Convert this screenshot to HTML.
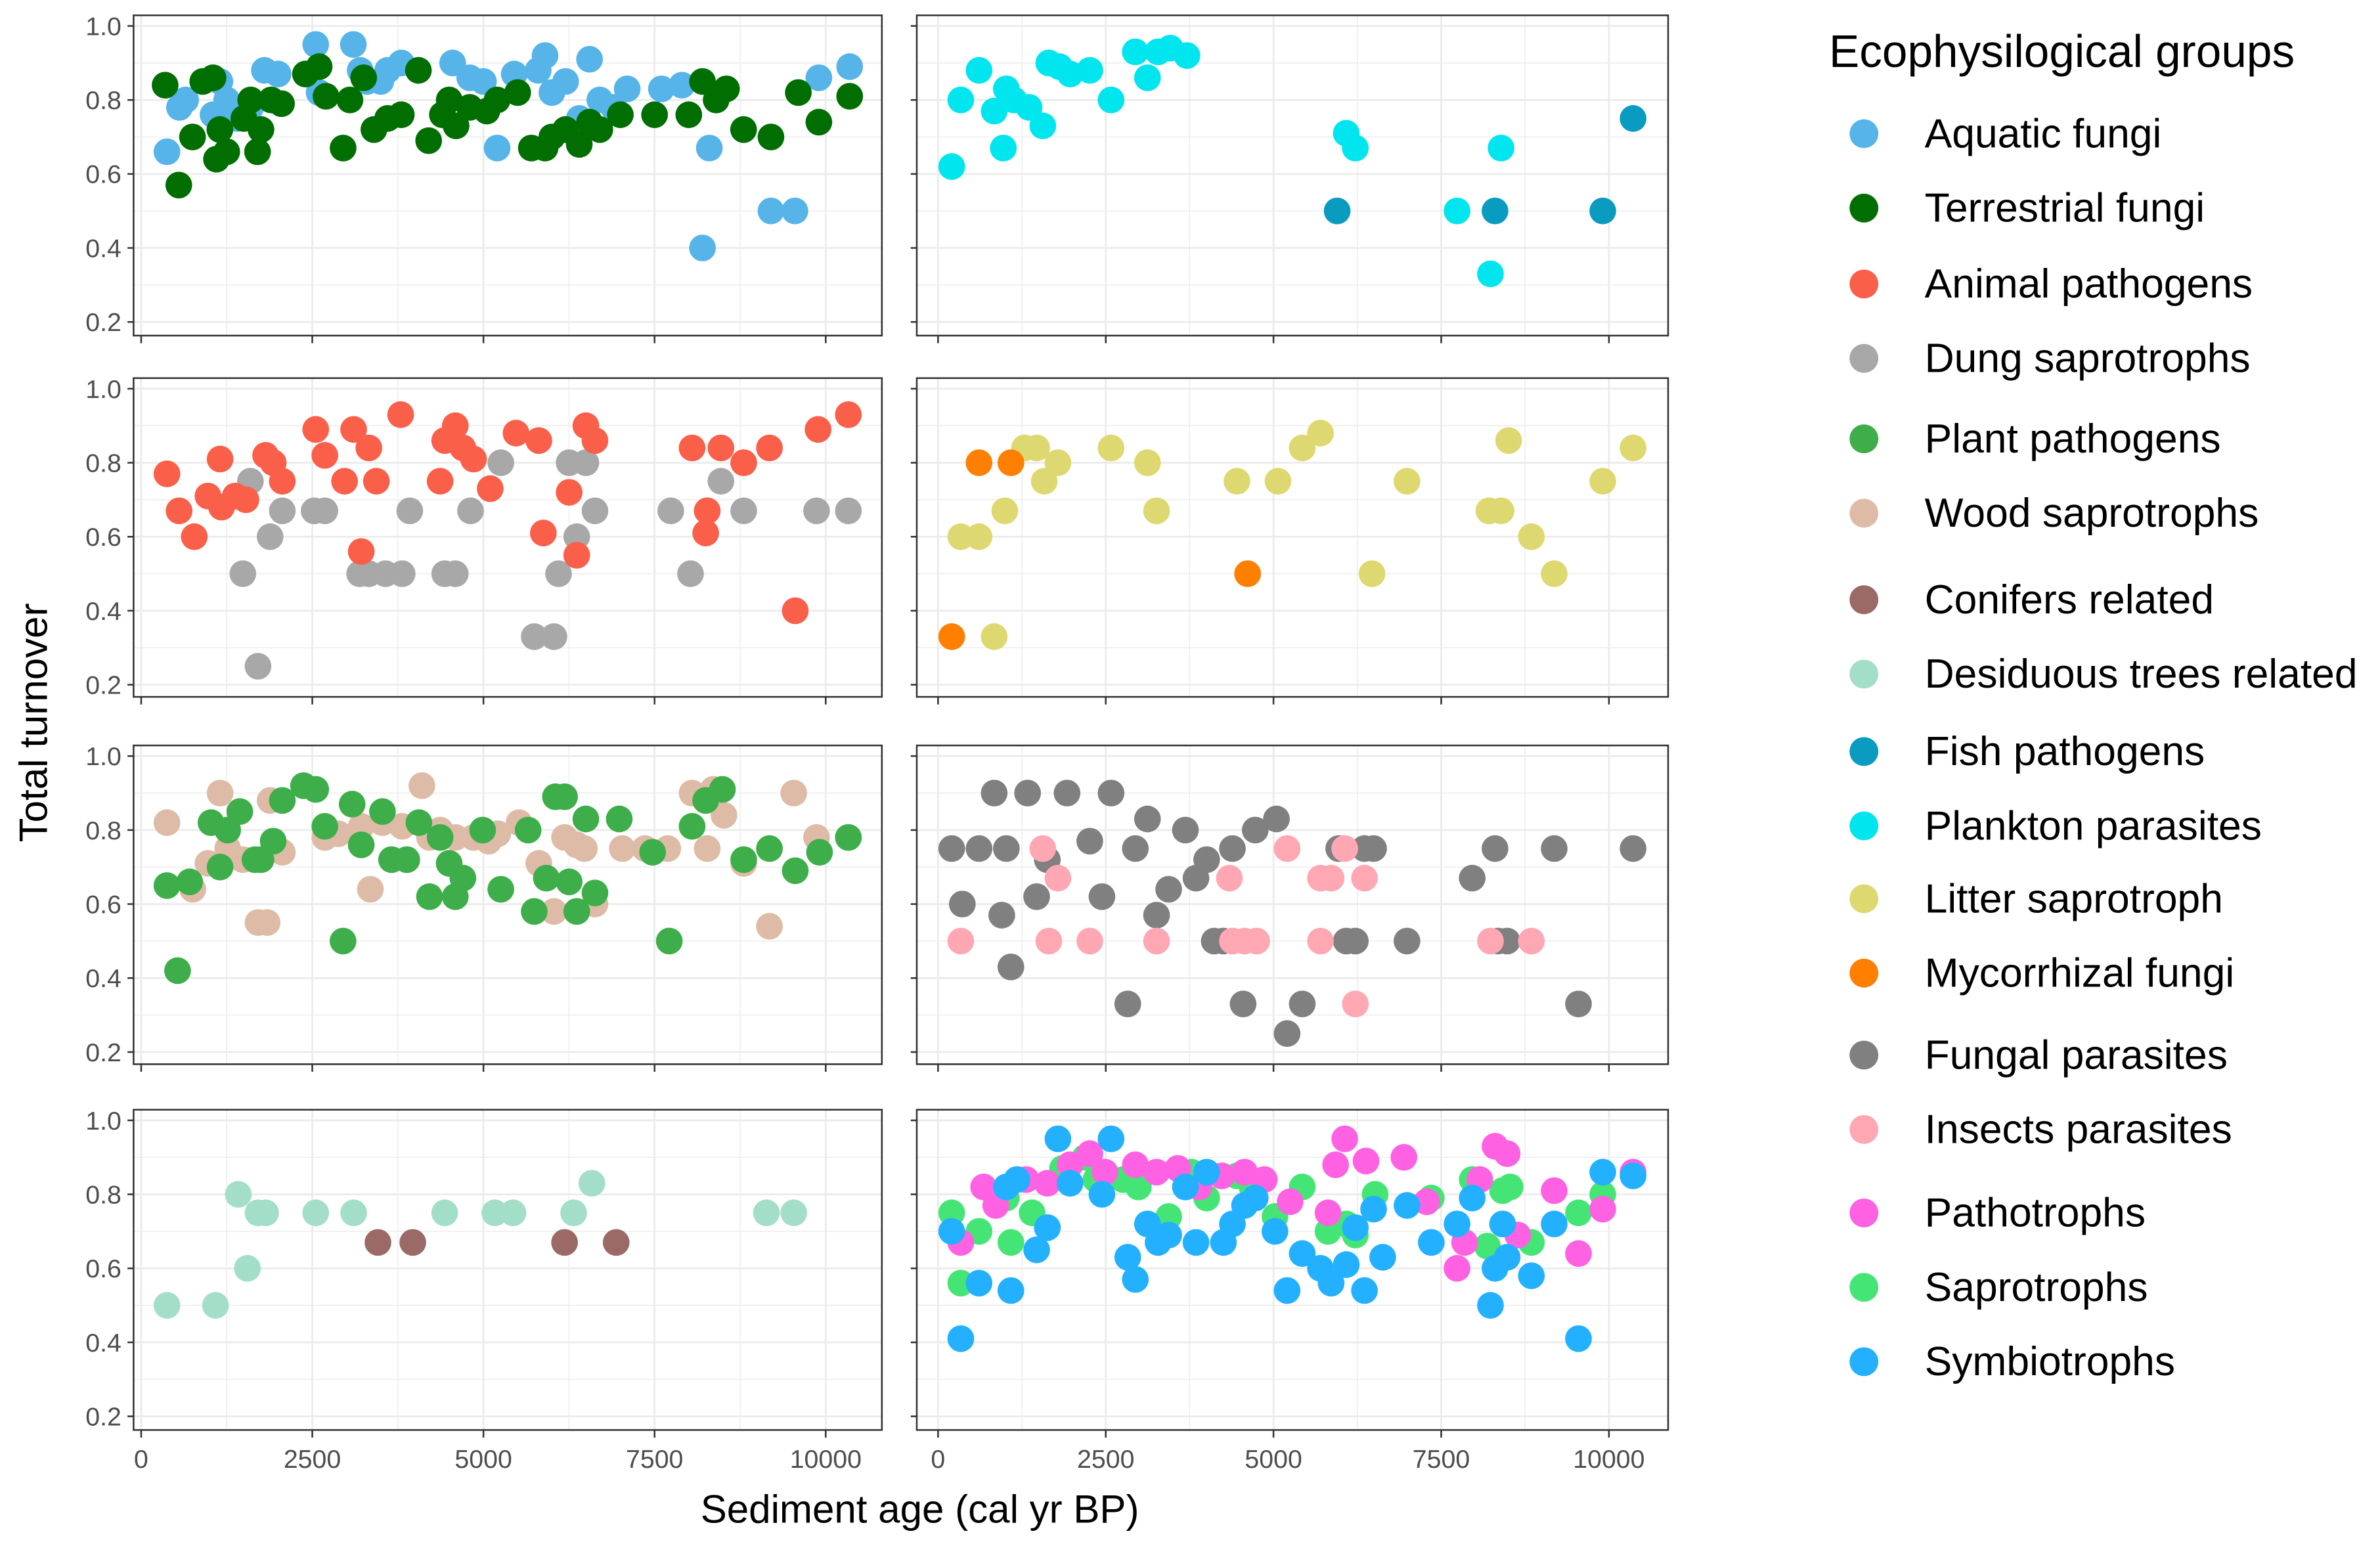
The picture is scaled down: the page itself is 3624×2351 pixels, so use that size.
<!DOCTYPE html>
<html><head><meta charset="utf-8"><style>
html,body{margin:0;padding:0;background:#fff;}
svg{display:block;font-family:"Liberation Sans",Arial,sans-serif;}
</style></head><body>
<svg id="chart" width="3624" height="2351" viewBox="0 0 1568 1017" xmlns="http://www.w3.org/2000/svg">
<rect width="1568" height="1017" fill="#fff"/>
<g id="panels"></g>
<text x="0" y="0" transform="translate(31,476) rotate(-90)" text-anchor="middle" font-size="26" fill="#000">Total turnover</text>
<text x="606" y="1003" text-anchor="middle" font-size="26" fill="#000">Sediment age (cal yr BP)</text>
<g id="legend"></g>
</svg>
<script>
const ticksY = [0.2,0.4,0.6,0.8,1.0];
const ticksX = [0,2500,5000,7500,10000];
const groupNames = ["Aquatic fungi","Terrestrial fungi","Animal pathogens","Dung saprotrophs","Plant pathogens","Wood saprotrophs","Conifers related","Desiduous trees related","Fish pathogens","Plankton parasites","Litter saprotroph","Mycorrhizal fungi","Fungal parasites","Insects parasites","Pathotrophs","Saprotrophs","Symbiotrophs"];
const groupColors = ["#56B4E9","#006E00","#FA5F4A","#A8A8A8","#3DAE49","#DDBBA6","#9B6A66","#A3DEC8","#0A9BC0","#00E5EE","#DDD870","#FF7F00","#808080","#FFA8B4","#FF61E3","#45E575","#22B0FF"];

const aquatic = [[377,0.66],[560,0.78],[650,0.80],[1050,0.76],[1150,0.85],[1250,0.80],[1300,0.78],[1400,0.75],[1600,0.78],[1800,0.88],[2000,0.87],[2550,0.95],[2600,0.82],[3100,0.95],[3200,0.88],[3300,0.85],[3500,0.85],[3600,0.88],[3800,0.90],[4550,0.90],[4800,0.86],[5000,0.85],[5200,0.67],[5450,0.87],[5800,0.88],[5900,0.92],[6000,0.82],[6200,0.85],[6400,0.75],[6550,0.91],[6700,0.80],[6900,0.78],[7100,0.83],[7600,0.83],[7900,0.84],[8200,0.40],[8300,0.67],[9200,0.50],[9550,0.50],[9900,0.86],[10350,0.89]];
const terrestrial = [[350,0.84],[550,0.57],[750,0.70],[900,0.85],[1050,0.86],[1100,0.64],[1150,0.72],[1250,0.66],[1500,0.75],[1600,0.80],[1700,0.66],[1750,0.72],[1900,0.80],[2050,0.79],[2400,0.87],[2600,0.89],[2700,0.81],[2950,0.67],[3050,0.80],[3250,0.86],[3400,0.72],[3600,0.75],[3800,0.76],[4050,0.88],[4200,0.69],[4400,0.76],[4500,0.80],[4600,0.73],[4800,0.78],[5050,0.77],[5200,0.80],[5500,0.82],[5700,0.67],[5900,0.67],[6000,0.70],[6200,0.72],[6400,0.68],[6550,0.74],[6700,0.72],[7000,0.76],[7500,0.76],[8000,0.76],[8200,0.85],[8400,0.80],[8550,0.83],[8800,0.72],[9200,0.70],[9600,0.82],[9900,0.74],[10350,0.81]];
const plankton = [[204,0.62],[339,0.80],[611,0.88],[837,0.77],[973,0.67],[1018,0.83],[1131,0.80],[1357,0.78],[1561,0.73],[1651,0.90],[1810,0.89],[1968,0.87],[2262,0.88],[2579,0.80],[2941,0.93],[3122,0.86],[3280,0.93],[3461,0.94],[3710,0.92],[6085,0.71],[6220,0.67],[7736,0.50],[8234,0.33],[8392,0.67]];
const fishPath = [[5949,0.50],[8302,0.50],[9908,0.50],[10360,0.75]];
const animal = [[377,0.77],[554,0.67],[776,0.60],[976,0.71],[1153,0.81],[1175,0.68],[1375,0.71],[1530,0.70],[1818,0.82],[1929,0.80],[2062,0.75],[2550,0.89],[2683,0.82],[2971,0.75],[3104,0.89],[3326,0.84],[3215,0.56],[3436,0.75],[3791,0.93],[4367,0.75],[4434,0.86],[4589,0.90],[4700,0.84],[4855,0.81],[5099,0.73],[5476,0.88],[5809,0.86],[5875,0.61],[6252,0.72],[6363,0.55],[6496,0.90],[6629,0.86],[8048,0.84],[8247,0.61],[8269,0.67],[8469,0.84],[8802,0.80],[9178,0.84],[9555,0.40],[9888,0.89],[10331,0.93]];
const dung = [[1485,0.50],[1596,0.75],[1707,0.25],[1884,0.60],[2062,0.67],[2527,0.67],[2683,0.67],[3192,0.50],[3326,0.50],[3570,0.50],[3813,0.50],[3924,0.67],[4434,0.50],[4589,0.50],[4811,0.67],[5254,0.80],[5742,0.33],[6030,0.33],[6097,0.50],[6252,0.80],[6363,0.60],[6496,0.80],[6629,0.67],[7737,0.67],[8025,0.50],[8269,0.67],[8469,0.75],[8802,0.67],[9866,0.67],[10331,0.67]];
const litter = [[339,0.60],[611,0.60],[837,0.33],[995,0.67],[1289,0.84],[1470,0.84],[1583,0.75],[1787,0.80],[2579,0.84],[3122,0.80],[3257,0.67],[4456,0.75],[5067,0.75],[5429,0.84],[5700,0.88],[6469,0.50],[6990,0.75],[8211,0.67],[8392,0.67],[8505,0.86],[8844,0.60],[9184,0.50],[9908,0.75],[10360,0.84]];
const mycorrhizal = [[204,0.33],[611,0.80],[1086,0.80],[4614,0.50]];
const plantPath = [[377,0.65],[532,0.42],[709,0.66],[1020,0.82],[1153,0.70],[1264,0.80],[1441,0.85],[1663,0.72],[1751,0.72],[1929,0.77],[2062,0.88],[2372,0.92],[2550,0.91],[2683,0.81],[2949,0.50],[3082,0.87],[3215,0.76],[3525,0.85],[3658,0.72],[3880,0.72],[4057,0.82],[4212,0.62],[4367,0.78],[4500,0.71],[4589,0.62],[4700,0.67],[4988,0.80],[5254,0.64],[5653,0.80],[5742,0.58],[5919,0.67],[6052,0.89],[6185,0.89],[6252,0.66],[6363,0.58],[6496,0.83],[6629,0.63],[6984,0.83],[7471,0.74],[7715,0.50],[8048,0.81],[8247,0.88],[8491,0.91],[8802,0.72],[9178,0.75],[9555,0.69],[9910,0.74],[10331,0.78]];
const woodSap = [[377,0.82],[532,0.42],[754,0.64],[976,0.71],[1153,0.90],[1264,0.75],[1485,0.72],[1707,0.55],[1840,0.55],[1884,0.88],[2062,0.74],[2683,0.78],[2882,0.79],[3215,0.81],[3348,0.64],[3525,0.82],[3813,0.81],[4101,0.92],[4212,0.78],[4367,0.80],[4589,0.78],[4855,0.78],[5077,0.77],[5210,0.79],[5520,0.82],[5809,0.71],[6030,0.58],[6185,0.78],[6363,0.76],[6474,0.75],[6629,0.60],[7028,0.75],[7360,0.75],[7693,0.75],[8048,0.90],[8269,0.75],[8358,0.91],[8513,0.84],[8802,0.71],[9178,0.54],[9533,0.90],[9866,0.78],[10331,0.78]];
const fungalPar = [[204,0.75],[362,0.60],[611,0.75],[837,0.90],[950,0.57],[1018,0.75],[1086,0.43],[1335,0.90],[1470,0.62],[1629,0.72],[1923,0.90],[2262,0.77],[2443,0.62],[2579,0.90],[2828,0.33],[2941,0.75],[3122,0.83],[3257,0.57],[3438,0.64],[3687,0.80],[3845,0.67],[4004,0.72],[4117,0.50],[4253,0.50],[4388,0.75],[4547,0.33],[4728,0.80],[5044,0.83],[5203,0.25],[5429,0.33],[5972,0.75],[6085,0.50],[6220,0.50],[6356,0.75],[6492,0.75],[6990,0.50],[7962,0.67],[8302,0.75],[8347,0.50],[8483,0.50],[9184,0.75],[9546,0.33],[10360,0.75]];
const insects = [[339,0.50],[1561,0.75],[1651,0.50],[1787,0.67],[2262,0.50],[3257,0.50],[4343,0.67],[4388,0.50],[4569,0.50],[4750,0.50],[5203,0.75],[5700,0.67],[5859,0.67],[6356,0.67],[6062,0.75],[6220,0.33],[5700,0.50],[8234,0.50],[8844,0.50]];
const deciduous = [[377,0.50],[1086,0.50],[1419,0.80],[1552,0.60],[1707,0.75],[1818,0.75],[2550,0.75],[3104,0.75],[4434,0.75],[5166,0.75],[5432,0.75],[6318,0.75],[6584,0.83],[9134,0.75],[9533,0.75]];
const conifers = [[3459,0.67],[3968,0.67],[6185,0.67],[6939,0.67]];
const pathotrophs = [[339,0.67],[679,0.82],[860,0.77],[1312,0.84],[1629,0.83],[1968,0.88],[2262,0.91],[2488,0.86],[2941,0.88],[3257,0.86],[3574,0.87],[3891,0.82],[4230,0.85],[4569,0.86],[4863,0.84],[5248,0.78],[5813,0.75],[5926,0.88],[6062,0.95],[6379,0.89],[6944,0.90],[7284,0.78],[7736,0.60],[7849,0.67],[8075,0.84],[8302,0.93],[8483,0.91],[8641,0.69],[9184,0.81],[9546,0.64],[9908,0.76],[10360,0.86]];
const saprotrophs = [[204,0.75],[339,0.56],[611,0.70],[1018,0.79],[1086,0.67],[1402,0.75],[1629,0.71],[1855,0.87],[2194,0.90],[2353,0.84],[2760,0.84],[2986,0.82],[3438,0.74],[3777,0.86],[4004,0.79],[4456,0.85],[4682,0.82],[5022,0.74],[5429,0.82],[5813,0.70],[6085,0.72],[6220,0.69],[6515,0.80],[7352,0.79],[7962,0.84],[8188,0.66],[8415,0.81],[8528,0.82],[8844,0.67],[9546,0.75],[9908,0.80]];
const symbiotrophs = [[204,0.70],[339,0.41],[611,0.56],[1018,0.82],[1086,0.54],[1176,0.84],[1470,0.65],[1629,0.71],[1787,0.95],[1968,0.83],[2443,0.80],[2579,0.95],[2828,0.63],[2941,0.57],[3122,0.72],[3280,0.67],[3438,0.69],[3687,0.82],[3845,0.67],[4004,0.86],[4253,0.67],[4388,0.72],[4569,0.77],[4728,0.79],[5022,0.70],[5203,0.54],[5429,0.64],[5700,0.60],[5859,0.56],[6085,0.61],[6220,0.71],[6356,0.54],[6492,0.76],[6628,0.63],[6990,0.77],[7352,0.67],[7736,0.72],[7962,0.79],[8234,0.50],[8302,0.60],[8415,0.72],[8483,0.63],[8844,0.58],[9184,0.72],[9546,0.41],[9908,0.86],[10360,0.85]];

const panelSeries = [
  [[aquatic,0],[terrestrial,1]],
  [[plankton,9],[fishPath,8]],
  [[dung,3],[animal,2]],
  [[litter,10],[mycorrhizal,11]],
  [[woodSap,5],[plantPath,4]],
  [[fungalPar,12],[insects,13]],
  [[deciduous,7],[conifers,6]],
  [[saprotrophs,15],[pathotrophs,14],[symbiotrophs,16]]
];
const panelNames = ["aquatic-terrestrial","plankton-fish","animal-dung","litter-mycorrhizal","plant-wood","fungal-insects","trees","trophic-modes"];

const NS="http://www.w3.org/2000/svg";
function mk(tag,attrs,parent){const e=document.createElementNS(NS,tag);for(const k in attrs)e.setAttribute(k,attrs[k]);parent.appendChild(e);return e;}
const colX=[{x0:88,x1:581,zero:93,per:0.0451},{x0:604,x1:1099,zero:618,per:0.0442}];
const rowY=[10,249,491,731];const rowH=[211,210,210,211];
const root=document.getElementById('panels');
for(let p=0;p<8;p++){
  const c=colX[p%2], r=Math.floor(p/2), top=rowY[r], bot=top+rowH[r];
  const sx=a=>c.zero+a*c.per;
  const sy=v=>top+7+(1-v)*243.75;
  const g=mk('g',{},root);
  
  
  for(let v=0.3;v<1.0;v+=0.2){mk('line',{x1:c.x0,x2:c.x1,y1:sy(v),y2:sy(v),stroke:'#EBEBEB','stroke-width':0.6},g);}
  for(let a=1250;a<11000;a+=2500){mk('line',{x1:sx(a),x2:sx(a),y1:top,y2:bot,stroke:'#EBEBEB','stroke-width':0.6},g);}
  ticksY.forEach(v=>mk('line',{x1:c.x0,x2:c.x1,y1:sy(v),y2:sy(v),stroke:'#EBEBEB','stroke-width':1.2},g));
  ticksX.forEach(a=>mk('line',{x1:sx(a),x2:sx(a),y1:top,y2:bot,stroke:'#EBEBEB','stroke-width':1.2},g));
  panelSeries[p].forEach(([arr,gi])=>{
    arr.forEach(d=>{
      const cpt=mk('circle',{cx:sx(d[0]),cy:sy(d[1]),r:8.8,fill:groupColors[gi]},g);
      
      
    });
  });
  mk('rect',{x:c.x0,y:top,width:c.x1-c.x0,height:bot-top,fill:'none',stroke:'#333','stroke-width':1.1},g);
  ticksY.forEach(v=>{
    mk('line',{x1:c.x0-4,x2:c.x0,y1:sy(v),y2:sy(v),stroke:'#333','stroke-width':1.1},g);
    if(p%2===0){const t=mk('text',{x:c.x0-8,y:sy(v)+6,'text-anchor':'end','font-size':17,fill:'#4D4D4D'},g);t.textContent=v.toFixed(1);
      
      }
  });
  ticksX.forEach(a=>{
    mk('line',{x1:sx(a),x2:sx(a),y1:bot,y2:bot+5,stroke:'#333','stroke-width':1.1},g);
    if(r===3){const t=mk('text',{x:sx(a),y:bot+25,'text-anchor':'middle','font-size':17,fill:'#4D4D4D'},g);t.textContent=String(a);
      
      }
  });
}
const lg=document.getElementById('legend');
const lt=mk('text',{x:1205,y:44,'font-size':30,fill:'#000'},lg);lt.textContent='Ecophysilogical groups';


const legY=[88,137,187,236,289,338,395,444,495,544,592,641,695,744,799,848,897];
groupNames.forEach((n,i)=>{
  const e=mk('g',{},lg);
  
  
  mk('circle',{cx:1228,cy:legY[i],r:9.5,fill:groupColors[i]},e);
  const t=mk('text',{x:1268,y:legY[i]+9,'font-size':27,fill:'#000'},e);t.textContent=n;
});
</script>
</body></html>
